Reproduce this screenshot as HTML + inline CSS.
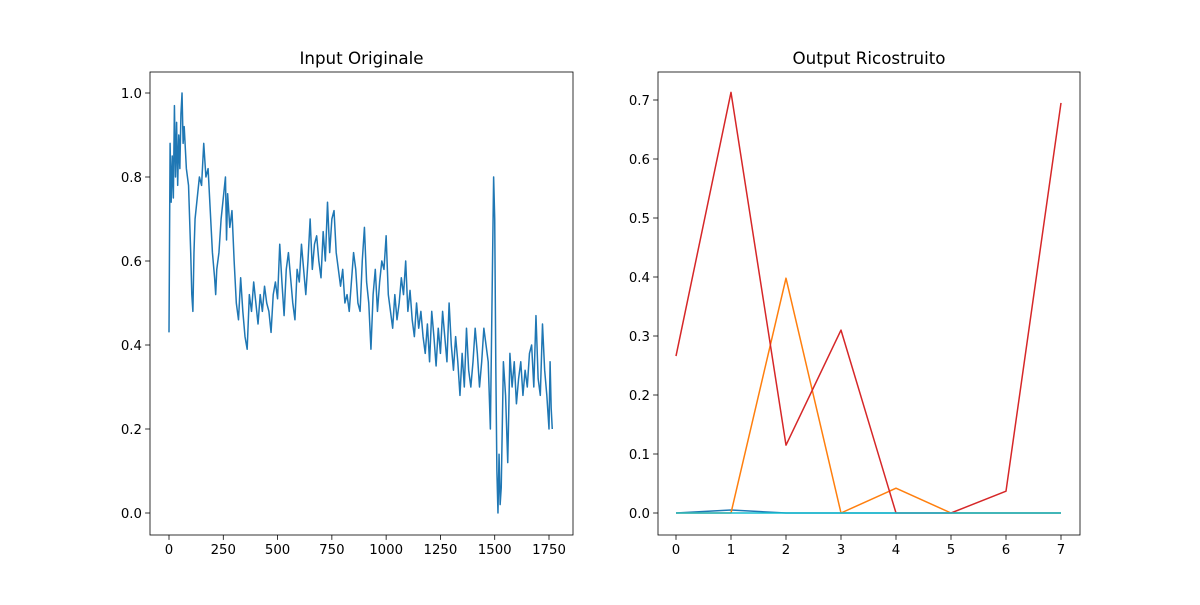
<!DOCTYPE html>
<html><head><meta charset="utf-8"><style>
body{margin:0;background:#fff;}
svg text{font-family:"DejaVu Sans","Liberation Sans",sans-serif;}
</style></head><body>
<svg id="fig" width="1200" height="600" xmlns="http://www.w3.org/2000/svg"></svg>
<script>
// Left chart data
const inputX=[0,5,10,15,20,25,30,35,40,45,50,55,60,65,70,80,90,100,105,110,115,120,130,140,150,160,170,180,190,200,210,215,220,230,240,250,260,265,270,280,290,300,310,320,330,340,350,360,370,380,390,400,410,420,430,440,450,460,470,480,490,500,510,520,530,540,550,560,570,580,590,600,610,620,630,640,650,660,670,680,690,700,710,720,730,740,750,760,770,780,790,800,810,820,830,840,850,860,870,880,890,900,910,920,930,940,950,960,970,980,990,1000,1010,1020,1030,1040,1050,1060,1070,1080,1090,1100,1110,1120,1130,1140,1150,1160,1170,1180,1190,1200,1210,1220,1230,1240,1250,1260,1270,1280,1290,1300,1310,1320,1330,1340,1350,1360,1370,1380,1390,1400,1410,1420,1430,1440,1450,1460,1470,1480,1490,1495,1500,1505,1510,1515,1520,1525,1530,1540,1550,1560,1570,1580,1590,1600,1610,1620,1630,1640,1650,1660,1670,1680,1690,1700,1710,1720,1730,1740,1750,1755,1760,1765];
const inputY=[0.43,0.88,0.74,0.85,0.75,0.97,0.80,0.93,0.78,0.90,0.82,0.95,1.0,0.88,0.92,0.82,0.78,0.62,0.52,0.48,0.62,0.70,0.75,0.80,0.78,0.88,0.80,0.82,0.72,0.62,0.56,0.52,0.58,0.62,0.70,0.75,0.80,0.65,0.76,0.68,0.72,0.60,0.50,0.46,0.56,0.48,0.42,0.39,0.52,0.48,0.55,0.50,0.45,0.52,0.48,0.54,0.50,0.48,0.43,0.52,0.55,0.51,0.64,0.55,0.47,0.58,0.62,0.56,0.50,0.46,0.58,0.55,0.64,0.58,0.52,0.60,0.70,0.58,0.64,0.66,0.60,0.56,0.67,0.60,0.74,0.62,0.70,0.72,0.62,0.58,0.54,0.58,0.50,0.52,0.48,0.55,0.62,0.58,0.50,0.48,0.60,0.68,0.55,0.50,0.39,0.52,0.58,0.48,0.55,0.60,0.58,0.66,0.52,0.48,0.44,0.52,0.46,0.50,0.56,0.52,0.60,0.48,0.53,0.46,0.42,0.50,0.44,0.48,0.42,0.38,0.45,0.36,0.48,0.42,0.35,0.44,0.38,0.48,0.42,0.36,0.50,0.40,0.34,0.42,0.36,0.28,0.38,0.30,0.44,0.34,0.30,0.36,0.44,0.38,0.30,0.36,0.44,0.40,0.36,0.20,0.60,0.80,0.70,0.35,0.10,0.0,0.14,0.02,0.06,0.36,0.28,0.12,0.38,0.30,0.36,0.26,0.32,0.36,0.28,0.34,0.30,0.38,0.40,0.30,0.47,0.32,0.28,0.45,0.34,0.28,0.20,0.36,0.25,0.20];
const leftXTicks=[0,250,500,750,1000,1250,1500,1750];
const leftYTicks=[0.0,0.2,0.4,0.6,0.8,1.0];
// Right chart data
const outX=[0,1,2,3,4,5,6,7];
const outRed=[0.266,0.713,0.115,0.31,0,0,0.037,0.695];
const outOrange=[0,0,0.398,0,0.042,0,0,0];
const outBlue=[0,0.005,0,0,0,0,0,0];
const outCyan=[0,0,0,0,0,0,0,0];
const rightXTicks=[0,1,2,3,4,5,6,7];
const rightYTicks=[0.0,0.1,0.2,0.3,0.4,0.5,0.6,0.7];

const svg=document.getElementById('fig');
const NS='http://www.w3.org/2000/svg';
function mk(tag,attrs,parent){const e=document.createElementNS(NS,tag);for(const k in attrs)e.setAttribute(k,attrs[k]);(parent||svg).appendChild(e);return e;}

function axes(name,L,T,R,B,xs,ys,xt,yt,title,fmtX,fmtY,series){
  const g=mk('g',{});
  
  
  mk('clipPath',{id:name+'-clip'},g).appendChild(mk('rect',{x:L,y:T,width:R-L,height:B-T},g));
  series.forEach(s=>{
    const pts=s.x.map((v,i)=>xs(v).toFixed(2)+','+ys(s.y[i]).toFixed(2)).join(' ');
    const p=mk('polyline',{points:pts,fill:'none',stroke:s.c,'stroke-width':1.5,'stroke-linejoin':'round','clip-path':'url(#'+name+'-clip)'},g);
    
    
  });
  const fr=mk('rect',{x:L,y:T,width:R-L,height:B-T,fill:'none',stroke:'#000','stroke-width':0.8},g);
  
  
  xt.forEach(v=>{const x=xs(v);mk('line',{x1:x,x2:x,y1:B,y2:B+4.9,stroke:'#000','stroke-width':0.8},g);
    const t=mk('text',{x:x,y:B+19,'font-size':13.3,'text-anchor':'middle'},g);t.textContent=fmtX(v);
    
    });
  yt.forEach(v=>{const y=ys(v);mk('line',{x1:L-4.9,x2:L,y1:y,y2:y,stroke:'#000','stroke-width':0.8},g);
    const t=mk('text',{x:L-8,y:y+5,'font-size':13.3,'text-anchor':'end'},g);t.textContent=fmtY(v);
    
    });
  const tt=mk('text',{x:(L+R)/2,y:T-8,'font-size':16.7,'text-anchor':'middle'},g);tt.textContent=title;
  
  
}
// Left
const lxs=v=>169+v*(549-169)/1750, lys=v=>513-v*420;
axes('input-chart',150,72,573,535,lxs,lys,leftXTicks,leftYTicks,'Input Originale',v=>String(v),v=>v.toFixed(1),
 [{x:inputX,y:inputY,c:'#1f77b4',n:'input-line'}]);
// Right
const rxs=v=>676+v*55, rys=v=>513-v*590;
axes('output-chart',658,72,1080,535,rxs,rys,rightXTicks,rightYTicks,'Output Ricostruito',v=>String(v),v=>v.toFixed(1),
 [{x:outX,y:outBlue,c:'#1f77b4',n:'output-blue-line'},
  {x:outX,y:outOrange,c:'#ff7f0e',n:'output-orange-line'},
  {x:outX,y:outRed,c:'#d62728',n:'output-red-line'},
  {x:outX,y:outCyan,c:'#17becf',n:'output-cyan-line'}]);
</script>
</body></html>
